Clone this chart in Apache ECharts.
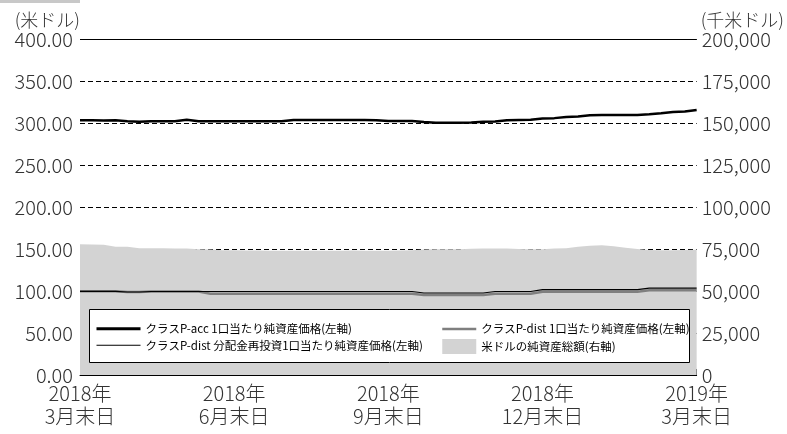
<!DOCTYPE html>
<html><head><meta charset="utf-8">
<script src="https://cdn.jsdelivr.net/npm/echarts@6/dist/echarts.min.js"></script>
<style>html,body{margin:0;padding:0;background:#fff}#c{width:787px;height:434px}</style>
</head><body><div id="c"></div>
<script>
// weekly points from 2018/3 end (index 0) to 2019/3 end (index 52)
var xTickLabels = ['2018年\n3月末日','2018年\n6月末日','2018年\n9月末日','2018年\n12月末日','2019年\n3月末日'];
var leftTicks = ['0.00','50.00','100.00','150.00','200.00','250.00','300.00','350.00','400.00'];
var seriesNames = ['クラスP-acc 1口当たり純資産価格(左軸)','クラスP-dist 分配金再投資1口当たり純資産価格(左軸)','クラスP-dist 1口当たり純資産価格(左軸)','米ドルの純資産総額(右軸)'];
var pAcc = [303.2,303.2,303.0,303.2,302.0,301.4,302,302,302.2,304,302,302,302,302,302,302,302,302,303.6,303.6,303.6,303.6,303.6,303.6,303.6,303.4,302.4,302.4,302.4,301.2,300.4,300.4,300.4,300.6,301.6,301.8,303.2,303.6,303.8,305.4,305.8,307.2,307.6,309.2,309.5,309.5,309.5,309.6,310.4,311.6,313,313.6,315.5];
var pDistReinv = [99.6,99.6,99.6,99.6,98.8,98.8,99.4,99.4,99.4,99.4,99.4,99.4,99.4,99.4,99.4,99.4,99.4,99.4,99.4,99.4,99.4,99.4,99.4,99.4,99.4,99.4,99.4,99.4,99.4,97.6,97.6,97.6,97.6,97.6,97.6,99.4,99.4,99.4,99.4,101.6,101.6,101.6,101.6,101.6,101.6,101.6,101.6,101.6,103.4,103.4,103.4,103.4,103.4];
var pDist = [99.6,99.6,99.6,99.6,98.8,98.8,99.4,99.4,99.4,99.4,99.4,96.8,96.8,96.8,96.8,96.8,96.8,96.8,96.8,96.8,96.8,96.8,96.8,96.8,96.8,96.8,96.8,96.8,96.8,95.2,95.2,95.2,95.2,95.2,95.2,96.8,96.8,96.8,96.8,99.2,99.2,99.2,99.2,99.2,99.2,99.2,99.2,99.2,101.0,101.0,101.0,101.0,101.0];
var netAssets = [77800,77700,77600,76400,76300,75500,75400,75400,75300,75300,74800,74700,74300,74200,74100,74100,74000,74000,74000,74000,74000,74000,74000,74100,74000,74000,74000,74100,74200,74700,74800,74800,74800,75200,75300,75300,75300,75000,74900,74900,75300,75500,76300,77000,77200,76600,75800,75000,74400,74300,74300,74400,74600];

function pairs(arr){ return arr.map(function(v,i){return [i,v];}); }
var FONT = 'Noto Sans CJK JP, sans-serif';
var noSym = {color:'transparent',borderWidth:0,opacity:0};

var chart = echarts.init(document.getElementById('c'), null, {renderer:'canvas'});
chart.setOption({
  animation:false,
  backgroundColor:'#fff',
  grid:{left:80,right:89,top:39,bottom:59,containLabel:false},
  xAxis:{type:'value',min:0,max:52,interval:13,
    axisLine:{show:true,lineStyle:{color:'#000',width:1}},
    axisTick:{show:true,inside:true,length:6,lineStyle:{color:'#000'}},
    splitLine:{show:false},
    axisLabel:{color:'#333',fontFamily:FONT,fontWeight:300,fontSize:20,lineHeight:23,margin:7,
      formatter:function(v){return xTickLabels[Math.round(v/13)]||'';}}
  },
  yAxis:[
    {type:'value',min:0,max:400,interval:50,position:'left',
      name:'(米ドル)',nameLocation:'end',nameGap:9,
      nameTextStyle:{color:'#333',fontFamily:FONT,fontWeight:300,fontSize:18,align:'right',padding:[0,0,0,0]},
      axisLine:{show:false},axisTick:{show:false},
      splitLine:{show:true,lineStyle:{color:'#000',type:[5,3],width:1}},
      axisLabel:{color:'#333',fontFamily:FONT,fontWeight:300,fontSize:20,margin:7,
        formatter:function(v){return leftTicks[Math.round(v/50)];}}
    },
    {type:'value',min:0,max:200000,interval:25000,position:'right',
      name:'(千米ドル)',nameLocation:'end',nameGap:9,
      nameTextStyle:{color:'#333',fontFamily:FONT,fontWeight:300,fontSize:18,align:'left',padding:[0,0,0,4]},
      axisLine:{show:false},axisTick:{show:false},splitLine:{show:false},
      axisLabel:{color:'#333',fontFamily:FONT,fontWeight:300,fontSize:20,margin:5,
        formatter:function(v){return v.toLocaleString('en-US');}}
    }
  ],
  legend:[
    {orient:'vertical',left:90,top:318,itemWidth:44,itemHeight:14,itemGap:5,
      textStyle:{color:'#000',fontFamily:FONT,fontSize:11.5},
      data:[{name:seriesNames[0],itemStyle:noSym,lineStyle:{width:3,color:'#000'}},
            {name:seriesNames[1],itemStyle:noSym,lineStyle:{width:1.2,color:'#000'}}]},
    {orient:'vertical',left:436,top:318,itemWidth:34,itemHeight:15,itemGap:4,
      textStyle:{color:'#000',fontFamily:FONT,fontSize:11.5},
      data:[{name:seriesNames[2],itemStyle:noSym,lineStyle:{width:2.5,color:'#7f7f7f'}},
            {name:seriesNames[3],icon:'rect',itemStyle:{color:'#d3d3d3',opacity:1}}]}
  ],
  graphic:[
    {type:'rect',shape:{x:0,y:0,width:80,height:3},style:{fill:'#c8c8c8'},z:10},
    {type:'rect',shape:{x:89.5,y:309.5,width:600,height:53},style:{fill:'#fff',stroke:'#000',lineWidth:1},z:3}
  ],
  series:[
    {name:seriesNames[3],type:'line',yAxisIndex:1,data:pairs(netAssets),symbol:'none',
      lineStyle:{width:0,color:'#d3d3d3'},itemStyle:{color:'#d3d3d3'},
      areaStyle:{color:'#d3d3d3',opacity:1},z:1},
    {name:seriesNames[2],type:'line',yAxisIndex:0,data:pairs(pDist),symbol:'none',
      lineStyle:{width:2.5,color:'#7f7f7f'},itemStyle:{color:'#7f7f7f'},z:2},
    {name:seriesNames[1],type:'line',yAxisIndex:0,data:pairs(pDistReinv),symbol:'none',
      lineStyle:{width:1.2,color:'#000'},itemStyle:{color:'#000'},z:2},
    {name:seriesNames[0],type:'line',yAxisIndex:0,data:pairs(pAcc),symbol:'none',
      lineStyle:{width:2.5,color:'#000'},itemStyle:{color:'#000'},z:2,
      markLine:{silent:true,symbol:'none',label:{show:false},
        lineStyle:{color:'#000',type:'solid',width:1},data:[{yAxis:400}]}}
  ]
});
</script></body></html>
